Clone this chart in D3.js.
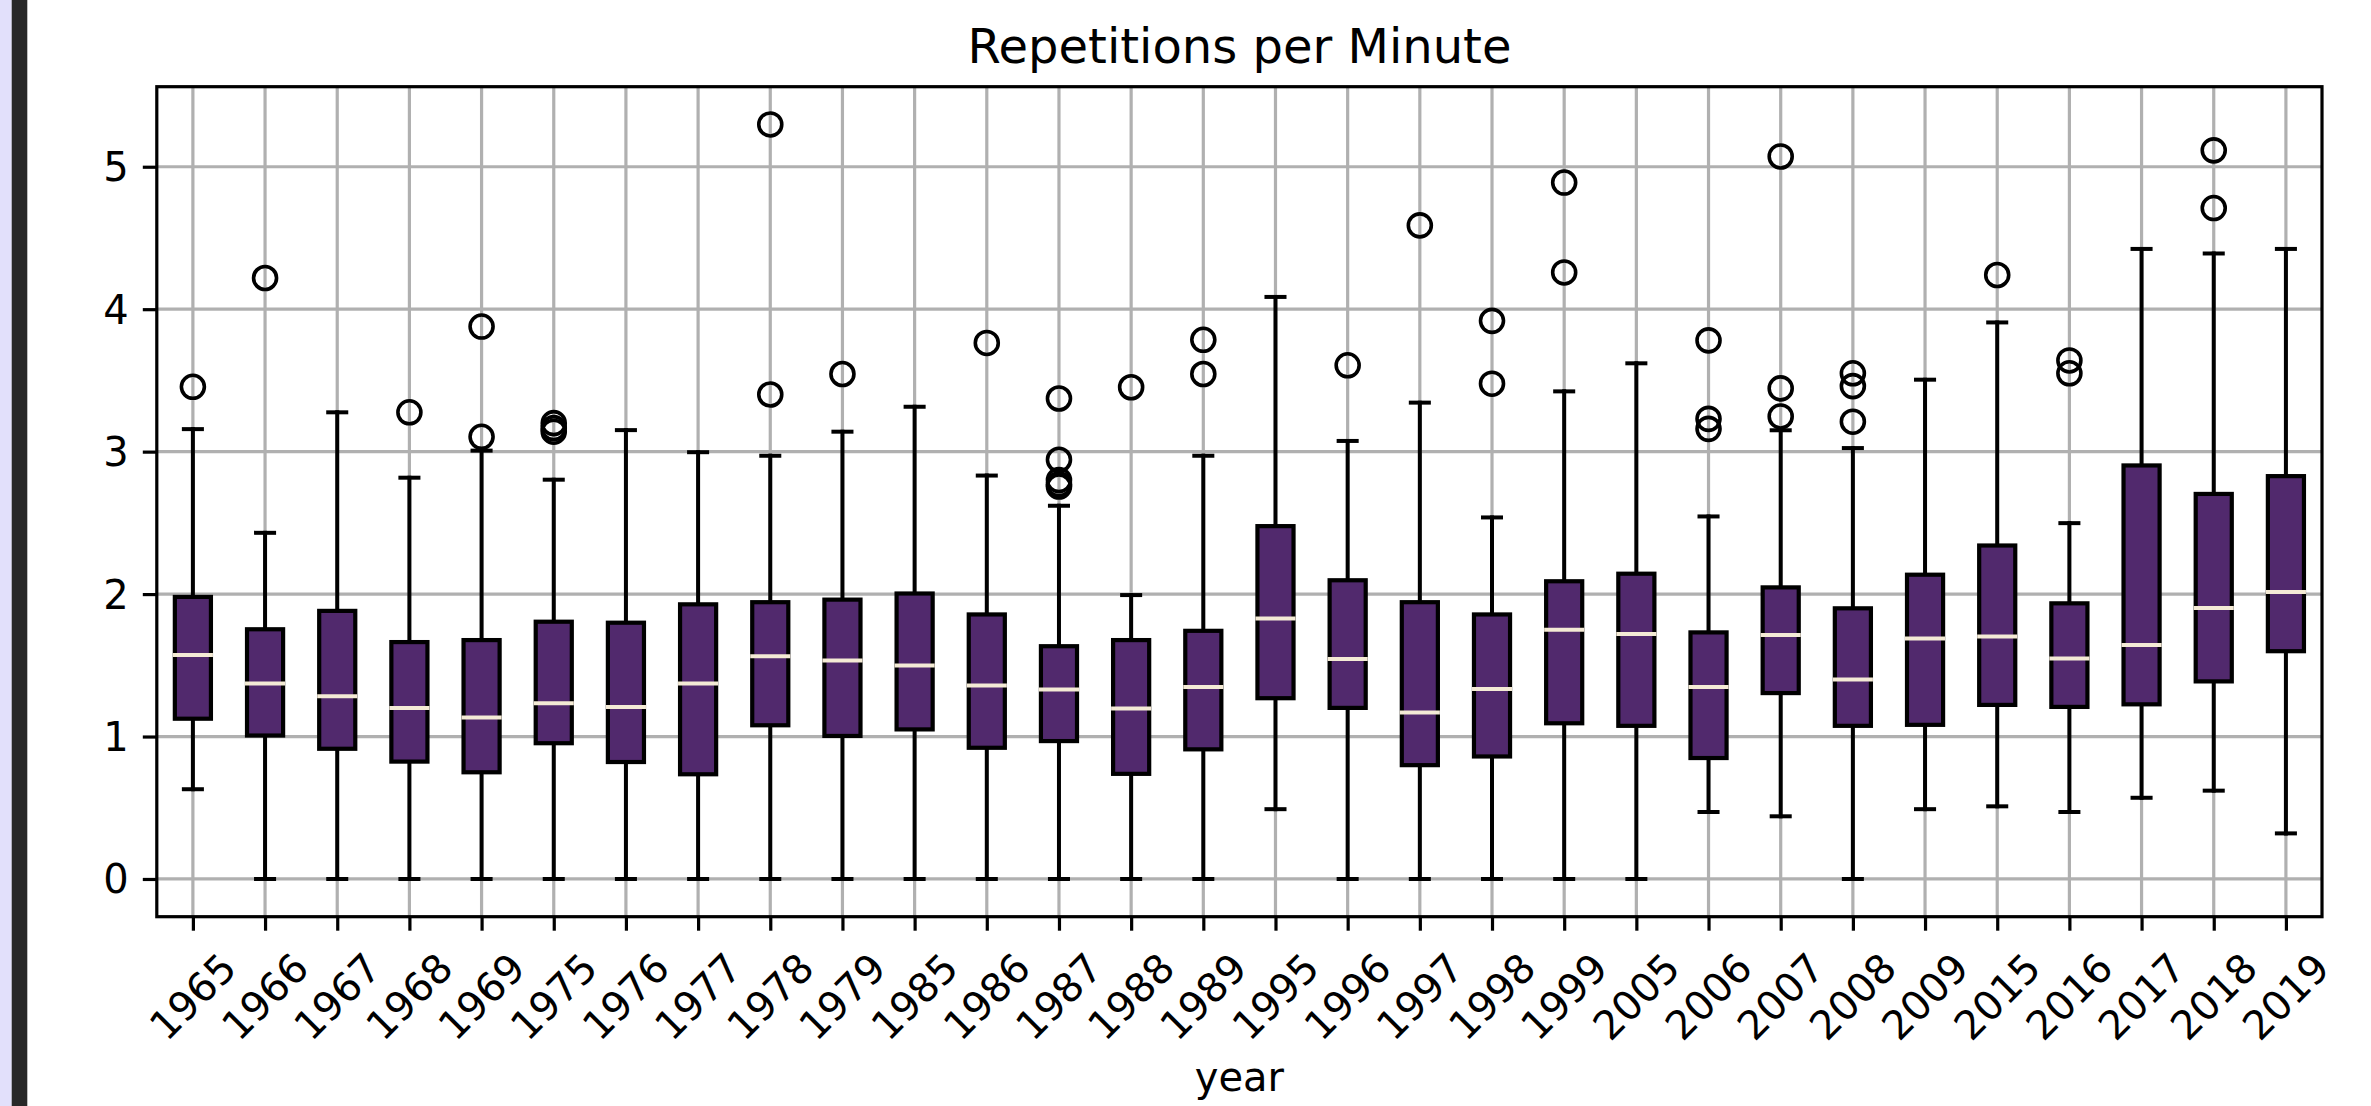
<!DOCTYPE html>
<html>
<head>
<meta charset="utf-8">
<script src="https://d3js.org/d3.v7.min.js"></script>
<style>
  body { margin: 0; background: #ffffff; }
  #box-chart text { font-family: "DejaVu Sans", sans-serif; fill: black; }
</style>
</head>
<body>
<div id="box-chart"></div>
<script>
// categories (one box per year)
var years = [1965, 1966, 1967, 1968, 1969, 1975, 1976, 1977, 1978, 1979,
             1985, 1986, 1987, 1988, 1989, 1995, 1996, 1997, 1998, 1999,
             2005, 2006, 2007, 2008, 2009, 2015, 2016, 2017, 2018, 2019];

// box statistics
var whiskerLow = [0.63, 0, 0, 0, 0, 0, 0, 0, 0, 0,
                  0, 0, 0, 0, 0, 0.49, 0, 0, 0, 0,
                  0, 0.47, 0.44, 0, 0.49, 0.51, 0.47, 0.57, 0.62, 0.32];
var q1 = [1.125, 1.007, 0.914, 0.824, 0.749, 0.953, 0.821, 0.735, 1.079, 1.004,
          1.05, 0.921, 0.968, 0.738, 0.91, 1.269, 1.201, 0.799, 0.86, 1.093,
          1.075, 0.849, 1.305, 1.075, 1.082, 1.222, 1.208, 1.226, 1.387, 1.599];
var median = [1.573, 1.373, 1.283, 1.201, 1.133, 1.233, 1.208, 1.373, 1.563, 1.534,
              1.498, 1.358, 1.33, 1.197, 1.348, 1.828, 1.545, 1.168, 1.333, 1.749,
              1.72, 1.348, 1.713, 1.401, 1.688, 1.703, 1.548, 1.642, 1.903, 2.014];
var q3 = [1.98, 1.753, 1.882, 1.663, 1.677, 1.806, 1.799, 1.928, 1.943, 1.961,
          2.004, 1.857, 1.634, 1.677, 1.742, 2.477, 2.097, 1.943, 1.857, 2.09,
          2.143, 1.731, 2.047, 1.9, 2.136, 2.341, 1.935, 2.903, 2.703, 2.828];
var whiskerHigh = [3.158, 2.43, 3.276, 2.817, 3.007, 2.803, 3.151, 2.996, 2.971, 3.14,
                   3.315, 2.832, 2.62, 1.993, 2.971, 4.086, 3.075, 3.344, 2.538, 3.423,
                   3.62, 2.545, 3.15, 3.025, 3.505, 3.907, 2.498, 4.423, 4.391, 4.423];
var outliers = [[3.455], [4.219], [], [3.276], [3.878, 3.104],
                [3.2, 3.165, 3.14], [], [], [5.297, 3.401], [3.545],
                [], [3.763], [3.373, 2.943, 2.8, 2.77, 2.755], [3.452], [3.785, 3.545],
                [], [3.606], [4.588], [3.918, 3.477], [4.889, 4.258],
                [], [3.781, 3.23, 3.16], [5.072, 3.444, 3.247], [3.55, 3.46, 3.21], [],
                [4.24], [3.64, 3.55], [], [5.115, 4.71], []];

var yTicks = [0, 1, 2, 3, 4, 5];
var chartTitle = "Repetitions per Minute";
var xLabel = "year";

/**
 * Constructor for the box chart
 */
function BoxChart(){
    var self = this;
    self.init();
};

/**
 * Sets up the svg and the plot area
 */
BoxChart.prototype.init = function(){
    var self = this;
    self.svgWidth = 2371;
    self.svgHeight = 1106;
    self.margin = {top: 86.7, right: 49, bottom: 189.3, left: 156.8};
    self.plotWidth = self.svgWidth - self.margin.left - self.margin.right;
    self.plotHeight = self.svgHeight - self.margin.top - self.margin.bottom;

    self.svg = d3.select("#box-chart").append("svg")
        .attr("width", self.svgWidth)
        .attr("height", self.svgHeight);

    self.svg.append("rect")
        .attr("width", self.svgWidth)
        .attr("height", self.svgHeight)
        .style("fill", "#ffffff");

    // the window edge on the left of the screenshot
    self.svg.append("rect").attr("x", 0).attr("y", 0)
        .attr("width", 11.7).attr("height", self.svgHeight)
        .style("fill", "#e2e0fb");
    self.svg.append("rect").attr("x", 11.7).attr("y", 0)
        .attr("width", 15.6).attr("height", self.svgHeight)
        .style("fill", "#282828");
};

BoxChart.prototype.update = function(){
    var self = this;
    var left = self.margin.left, top = self.margin.top;
    var right = left + self.plotWidth, bottom = top + self.plotHeight;

    // y domain with matplotlib style 5% margins
    var allVals = whiskerLow.concat(whiskerHigh, d3.merge(outliers));
    var lo = d3.min(allVals), hi = d3.max(allVals);
    var pad = (hi - lo) * 0.05;

    self.x = d3.scalePoint()
        .domain(years)
        .range([left, right])
        .padding(0.5);

    self.y = d3.scaleLinear()
        .domain([lo - pad, hi + pad])
        .range([bottom, top]);

    var boxW = self.x.step() * 0.5;

    // GRID
    var grid = self.svg.append("g").attr("class", "grid");
    grid.selectAll(".vgrid").data(years).enter().append("line")
        .attr("x1", function(d){ return self.x(d); })
        .attr("x2", function(d){ return self.x(d); })
        .attr("y1", top).attr("y2", bottom)
        .style("stroke", "#b0b0b0").style("stroke-width", 3.2);
    grid.selectAll(".hgrid").data(yTicks).enter().append("line")
        .attr("x1", left).attr("x2", right)
        .attr("y1", function(d){ return self.y(d); })
        .attr("y2", function(d){ return self.y(d); })
        .style("stroke", "#b0b0b0").style("stroke-width", 3.2);

    // BOXES
    var boxes = self.svg.selectAll(".box")
        .data(years)
        .enter().append("g")
        .attr("class", "box")
        .attr("transform", function(d){ return "translate(" + self.x(d) + ",0)"; });

    boxes.append("line")
        .attr("y1", function(d, i){ return self.y(whiskerLow[i]); })
        .attr("y2", function(d, i){ return self.y(q1[i]); })
        .style("stroke", "black").style("stroke-width", 4).style("stroke-linecap", "square");
    boxes.append("line")
        .attr("y1", function(d, i){ return self.y(q3[i]); })
        .attr("y2", function(d, i){ return self.y(whiskerHigh[i]); })
        .style("stroke", "black").style("stroke-width", 4).style("stroke-linecap", "square");

    // caps
    boxes.append("line")
        .attr("x1", -boxW / 4).attr("x2", boxW / 4)
        .attr("y1", function(d, i){ return self.y(whiskerLow[i]); })
        .attr("y2", function(d, i){ return self.y(whiskerLow[i]); })
        .style("stroke", "black").style("stroke-width", 4).style("stroke-linecap", "square");
    boxes.append("line")
        .attr("x1", -boxW / 4).attr("x2", boxW / 4)
        .attr("y1", function(d, i){ return self.y(whiskerHigh[i]); })
        .attr("y2", function(d, i){ return self.y(whiskerHigh[i]); })
        .style("stroke", "black").style("stroke-width", 4).style("stroke-linecap", "square");

    boxes.append("rect")
        .attr("x", -boxW / 2)
        .attr("width", boxW)
        .attr("y", function(d, i){ return self.y(q3[i]); })
        .attr("height", function(d, i){ return self.y(q1[i]) - self.y(q3[i]); })
        .style("fill", "#51296d")
        .style("stroke", "black")
        .style("stroke-width", 4.2);

    boxes.append("line")
        .attr("x1", -boxW / 2 - 2).attr("x2", boxW / 2 + 2)
        .attr("y1", function(d, i){ return self.y(median[i]); })
        .attr("y2", function(d, i){ return self.y(median[i]); })
        .style("stroke", "#f4ead5").style("stroke-width", 4);

    boxes.selectAll(".flier")
        .data(function(d, i){ return outliers[i]; })
        .enter().append("circle")
        .attr("class", "flier")
        .attr("cx", 0)
        .attr("cy", function(v){ return self.y(v); })
        .attr("r", 11.5)
        .style("fill", "none")
        .style("stroke", "black")
        .style("stroke-width", 3.6);

    // AXES (ticks only, the frame is drawn as spines below)
    var xAxis = d3.axisBottom(self.x).tickSize(14).tickPadding(0).tickFormat("");
    var yAxis = d3.axisLeft(self.y).tickValues(yTicks).tickFormat(d3.format("d"))
        .tickSize(14).tickPadding(14);

    var x_axis_g = self.svg.append("g")
        .attr("class", "x-axis")
        .attr("transform", "translate(0," + bottom + ")")
        .call(xAxis);
    var y_axis_g = self.svg.append("g")
        .attr("class", "y-axis")
        .attr("transform", "translate(" + left + ",0)")
        .call(yAxis);

    self.svg.selectAll(".domain").remove();
    self.svg.selectAll(".tick line").style("stroke", "black").style("stroke-width", 3.2);
    y_axis_g.selectAll("text").style("font-size", "40px").attr("dy", "0.35em");

    // rotated year labels
    x_axis_g.selectAll(".year-label")
        .data(years)
        .enter().append("text")
        .attr("class", "year-label")
        .attr("transform", function(d){ return "translate(" + self.x(d) + ",80) rotate(-45)"; })
        .attr("text-anchor", "middle")
        .attr("dy", "0.35em")
        .style("font-size", "40px")
        .text(function(d){ return d; });

    // spines
    self.svg.append("rect")
        .attr("x", left).attr("y", top)
        .attr("width", self.plotWidth).attr("height", self.plotHeight)
        .style("fill", "none")
        .style("stroke", "black")
        .style("stroke-width", 3.2);

    // title and axis label
    self.svg.append("text")
        .attr("x", left + self.plotWidth / 2)
        .attr("y", 63)
        .attr("text-anchor", "middle")
        .style("font-size", "48px")
        .text(chartTitle);

    self.svg.append("text")
        .attr("x", left + self.plotWidth / 2)
        .attr("y", 1091)
        .attr("text-anchor", "middle")
        .style("font-size", "40px")
        .text(xLabel);
};

var chart = new BoxChart();
chart.update();
</script>
</body>
</html>
